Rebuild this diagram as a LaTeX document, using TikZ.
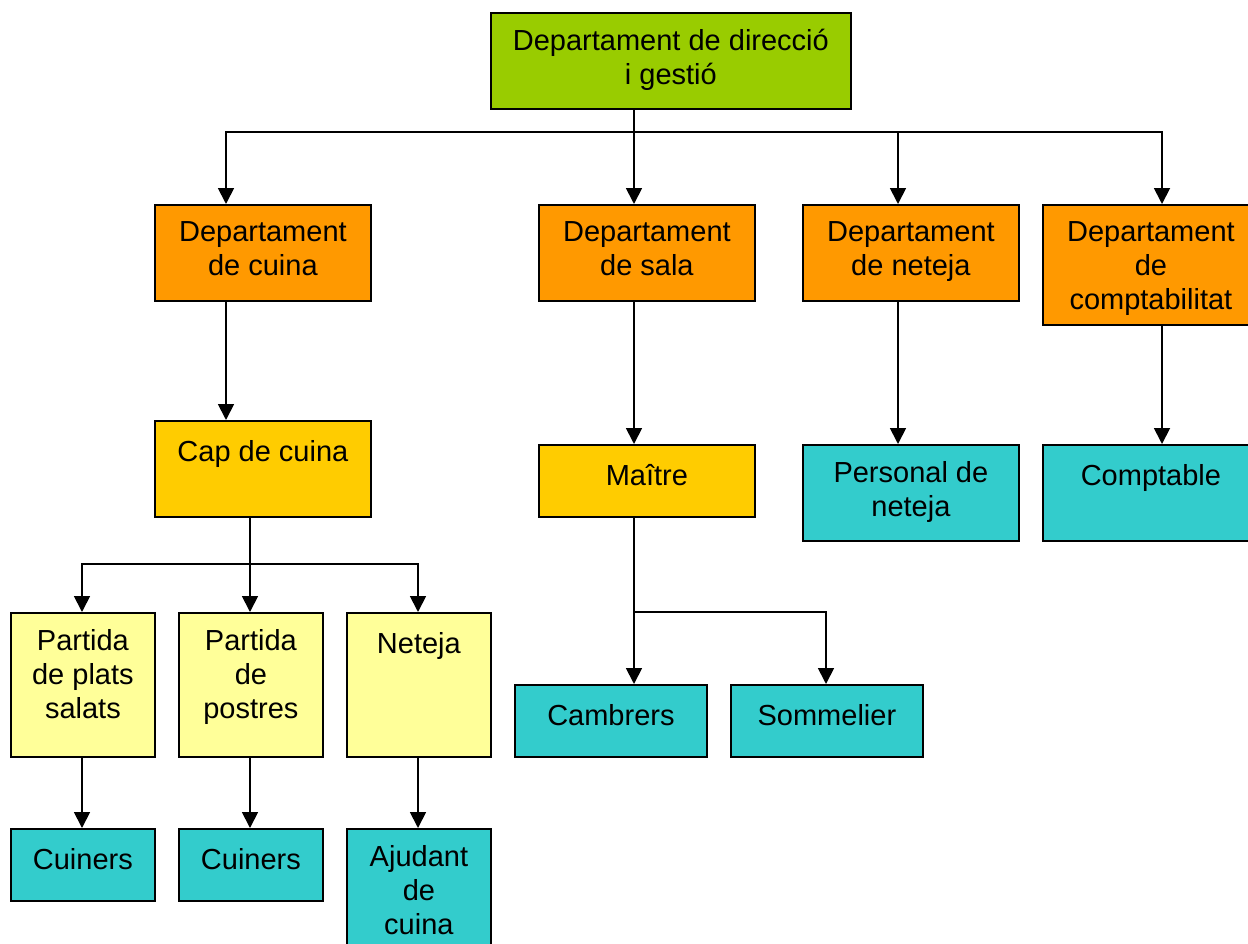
\documentclass[tikz,border=0pt]{standalone}
\usepackage{fontspec}
\setmainfont{Liberation Sans}
\usetikzlibrary{arrows.meta}

\definecolor{dirgreen}{HTML}{99CC00}
\definecolor{deporange}{HTML}{FF9900}
\definecolor{capyellow}{HTML}{FFCC00}
\definecolor{partyellow}{HTML}{FFFF99}
\definecolor{staffteal}{HTML}{33CCCC}

\begin{document}
\begin{tikzpicture}[
			x=1pt, y=-1pt,
			font=\fontsize{29}{34}\selectfont,
			box/.style={
				draw,
				line width=1.8pt,
				anchor=north west,
				inner sep=0pt
			},
			boxtext/.style={
				anchor=north,
				align=center,
				inner sep=0pt,
				yshift=-17pt,
				execute at begin node=\strut
			},
			arr/.style={-{Triangle[length=16pt, width=16pt]}, line width=1.8pt}
			]
			
			\useasboundingbox (0,0) rectangle (1248,943);
			
			% direccio
			\node[box, fill=dirgreen, minimum width=360pt, minimum height=96pt,
				label={[boxtext]north:Departament de direcció\\i gestió}] (dir) at (490,12) {};
			
			% departaments
			\node[box, fill=deporange, minimum width=216pt, minimum height=96pt,
				label={[boxtext]north:Departament\\de cuina}] (cuina) at (154,204) {};
			\node[box, fill=deporange, minimum width=216pt, minimum height=96pt,
				label={[boxtext]north:Departament\\de sala}] (sala) at (538,204) {};
			\node[box, fill=deporange, minimum width=216pt, minimum height=96pt,
				label={[boxtext]north:Departament\\de neteja}] (neteja) at (802,204) {};
			\node[box, fill=deporange, minimum width=216pt, minimum height=120pt,
				label={[boxtext]north:Departament\\de\\comptabilitat}] (compt) at (1042,204) {};
			
			% caps
			\node[box, fill=capyellow, minimum width=216pt, minimum height=96pt,
				label={[boxtext]north:Cap de cuina}] (cap) at (154,420) {};
			\node[box, fill=capyellow, minimum width=216pt, minimum height=72pt,
				label={[boxtext]north:Maître}] (maitre) at (538,444) {};
			\node[box, fill=staffteal, minimum width=216pt, minimum height=96pt,
				label={[boxtext]north:Personal de\\neteja}] (personal) at (802,444) {};
			\node[box, fill=staffteal, minimum width=216pt, minimum height=96pt,
				label={[boxtext]north:Comptable}] (comptable) at (1042,444) {};
			
			% partides
			\node[box, fill=partyellow, minimum width=144pt, minimum height=144pt,
				label={[boxtext]north:Partida\\de plats\\salats}] (plats) at (10,612) {};
			\node[box, fill=partyellow, minimum width=144pt, minimum height=144pt,
				label={[boxtext]north:Partida\\de\\postres}] (postres) at (178,612) {};
			\node[box, fill=partyellow, minimum width=144pt, minimum height=144pt,
				label={[boxtext]north:Neteja}] (netejacuina) at (346,612) {};
			
			% personal
			\node[box, fill=staffteal, minimum width=144pt, minimum height=72pt,
				label={[boxtext]north:Cuiners}] (cuiners1) at (10,828) {};
			\node[box, fill=staffteal, minimum width=144pt, minimum height=72pt,
				label={[boxtext]north:Cuiners}] (cuiners2) at (178,828) {};
			\node[box, fill=staffteal, minimum width=144pt, minimum height=144pt,
				label={[boxtext]north:Ajudant\\de\\cuina}] (ajudant) at (346,828) {};
			\node[box, fill=staffteal, minimum width=192pt, minimum height=72pt,
				label={[boxtext]north:Cambrers}] (cambrers) at (514,684) {};
			\node[box, fill=staffteal, minimum width=192pt, minimum height=72pt,
				label={[boxtext]north:Sommelier}] (sommelier) at (730,684) {};
			
			% punts d'entrada i sortida
			\coordinate (dir-out) at ([xshift=144pt]dir.south west);
			\coordinate (cuina-in) at ([xshift=72pt]cuina.north west);
			\coordinate (sala-in) at ([xshift=96pt]sala.north west);
			\coordinate (neteja-in) at ([xshift=96pt]neteja.north west);
			\coordinate (compt-in) at ([xshift=120pt]compt.north west);
			\coordinate (cap-out) at ([xshift=96pt]cap.south west);
			\coordinate (maitre-out) at ([xshift=96pt]maitre.south west);
			\coordinate (cambrers-in) at ([xshift=120pt]cambrers.north west);
			\coordinate (sommelier-in) at ([xshift=96pt]sommelier.north west);
			\coordinate (topbus) at (0,132);
			\coordinate (capbus) at (0,564);
			\coordinate (maitrebus) at (0,612);
			
			% connexions
			\draw[arr] (dir-out) -- (sala-in);
			\draw[arr] (dir-out |- topbus) -| (cuina-in);
			\draw[arr] (dir-out |- topbus) -| (neteja-in);
			\draw[arr] (dir-out |- topbus) -| (compt-in);
			
			\draw[arr] ([xshift=72pt]cuina.south west) -- ([xshift=72pt]cap.north west);
			\draw[arr] ([xshift=96pt]sala.south west) -- ([xshift=96pt]maitre.north west);
			\draw[arr] ([xshift=96pt]neteja.south west) -- ([xshift=96pt]personal.north west);
			\draw[arr] ([xshift=120pt]compt.south west) -- ([xshift=120pt]comptable.north west);
			
			\draw[arr] (cap-out) -- ([xshift=72pt]postres.north west);
			\draw[arr] (cap-out |- capbus) -| ([xshift=72pt]plats.north west);
			\draw[arr] (cap-out |- capbus) -| ([xshift=72pt]netejacuina.north west);
			
			\draw[arr] (maitre-out) -- (cambrers-in);
			\draw[arr] (maitre-out |- maitrebus) -| (sommelier-in);
			
			\draw[arr] ([xshift=72pt]plats.south west) -- ([xshift=72pt]cuiners1.north west);
			\draw[arr] ([xshift=72pt]postres.south west) -- ([xshift=72pt]cuiners2.north west);
			\draw[arr] ([xshift=72pt]netejacuina.south west) -- ([xshift=72pt]ajudant.north west);
			
		\end{tikzpicture}
\end{document}
